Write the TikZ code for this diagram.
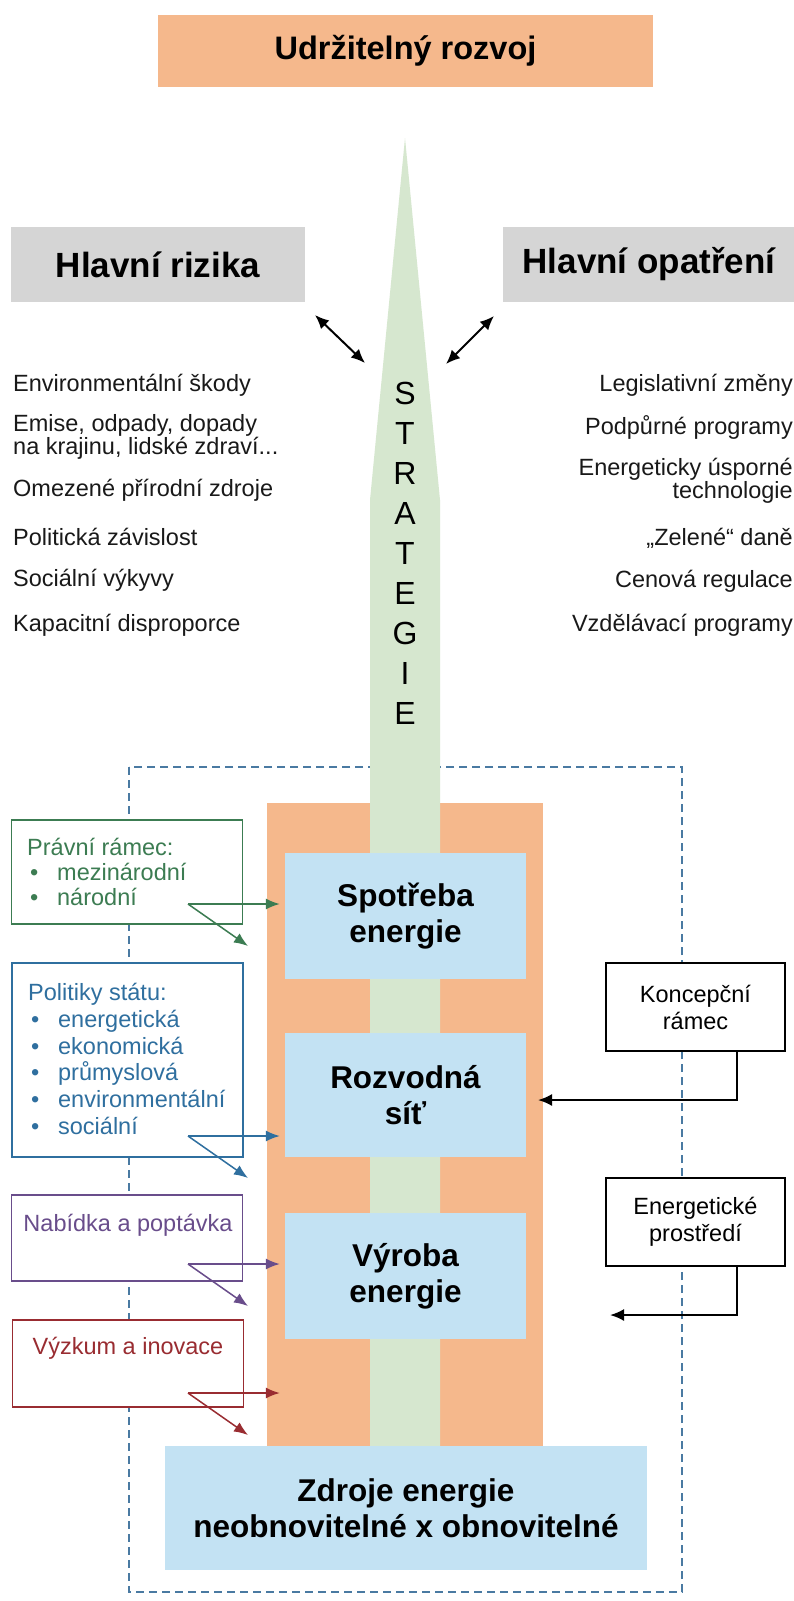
\documentclass[tikz,border=0pt]{standalone}
\usepackage{fontspec}
\setmainfont{Liberation Sans}
\usetikzlibrary{arrows.meta,positioning}

\definecolor{peach}{HTML}{F5B88C}
\definecolor{skyblue}{HTML}{C3E2F3}
\definecolor{sage}{HTML}{D6E7CF}
\definecolor{headgray}{HTML}{D5D5D5}
\definecolor{lawgreen}{HTML}{3C7C52}
\definecolor{policyblue}{HTML}{2F6F9F}
\definecolor{marketpurple}{HTML}{694D8B}
\definecolor{researchred}{HTML}{992C31}
\definecolor{dashblue}{HTML}{4A7AA2}

\newcommand{\listbullet}{\hspace*{3pt}\makebox[27pt][l]{\textbullet}}

\begin{document}
\begin{tikzpicture}[x=1pt,y=-1pt,
    listtext/.style={inner sep=0pt,text=black!90,font=\fontsize{23.5}{21}\selectfont},
    heading/.style={fill=headgray,minimum height=75pt,font=\bfseries\fontsize{35}{40}\selectfont},
    stage/.style={fill=skyblue,align=center,minimum width=241pt,font=\bfseries\fontsize{31.5}{36}\selectfont},
    sidebox/.style={draw,line width=1.5pt,fill=white,minimum width=231pt},
    envbox/.style={draw=black,line width=2pt,fill=white,minimum width=179pt,minimum height=88pt,align=center,font=\fontsize{23.5}{27}\selectfont},
    feed/.style={line width=1.5pt,-{Latex[length=14pt,width=11pt]}},
    backarrow/.style={line width=2pt,-{Latex[length=14pt,width=12pt]}},
    twoway/.style={line width=2pt,{Latex[length=14pt,width=12pt]}-{Latex[length=14pt,width=12pt]}}
  ]
        % page with the proportions of the reference
        \useasboundingbox (0,0) rectangle (794,1601);
        \fill[white] (0,0) rectangle (794,1601);

        % goal and the two headings
        \node[fill=peach,minimum width=495pt,minimum height=72pt,font=\bfseries\fontsize{32.5}{38}\selectfont] (goal) at (405.5,51) {Udržitelný rozvoj};
        \node[heading,minimum width=294pt] (risks) at (158,264.5) {Hlavní rizika};
        \node[heading,minimum width=292pt] (measures) at (649,264.5) {Hlavní opatření};

        % dashed frame of the energy system
        \draw[dashblue,line width=1.5pt,dash pattern=on 8pt off 5pt] (129,767) rectangle (682,1592);

        % orange column and the strategy spike
        \fill[peach] (267,803) rectangle (543,1446);
        \fill[sage] (405,138) -- (440,500) -- (440,1446) -- (370,1446) -- (370,500) -- cycle;

        \foreach \letter [count=\i] in {S,T,R,A,T,E,G,I,E}{
            \node[inner sep=0pt,font=\fontsize{32}{32}\selectfont] (strat\i) at (405,{353+40*\i}) {\letter};
        }

        % risks on the left, measures on the right
        \foreach \ypos/\txt [count=\i] in {385/{Environmentální škody}, 437/{Emise, odpady, dopady\\na krajinu, lidské zdraví...}, 490/{Omezené přírodní zdroje}, 537/{Politická závislost}, 580/{Sociální výkyvy}, 625/{Kapacitní disproporce}}{
            \node[listtext,anchor=west,align=left] (risk\i) at (13,\ypos) {\txt};
        }
        \foreach \ypos/\txt [count=\i] in {385/{Legislativní změny}, 427/{Podpůrné programy}, 481/{Energeticky úsporné\\technologie}, 538/{„Zelené“ daně}, 581/{Cenová regulace}, 625/{Vzdělávací programy}}{
            \node[listtext,anchor=east,align=right] (measure\i) at (793,\ypos) {\txt};
        }

        % arrows between the headings and the spike
        \coordinate (risks-a) at (315,315);
        \coordinate (risks-b) at (365,363);
        \coordinate (measures-a) at (494,316);
        \coordinate (measures-b) at (446,364);
        \draw[twoway] (risks-a) -- (risks-b);
        \draw[twoway] (measures-a) -- (measures-b);

        % stages of the energy chain
        \node[stage,minimum height=126pt] (use) at (405.5,916) {Spotřeba\\energie};
        \node[stage,minimum height=124pt] (grid) at (405.5,1095) {Rozvodná\\síť};
        \node[stage,minimum height=126pt] (production) at (405.5,1276) {Výroba\\energie};
        \node[stage,minimum width=482pt,minimum height=124pt] (sources) at (406,1508) {Zdroje energie\\neobnovitelné x obnovitelné};

        % boxes on the left
        \node[sidebox,draw=lawgreen,minimum height=104pt] (law) at (127,872) {};
        \node[listtext,text=lawgreen,anchor=west,align=left,font=\fontsize{23.5}{25}\selectfont] (lawtxt) at (27,872) {Právní rámec:\\\listbullet mezinárodní\\\listbullet národní};
        \node[sidebox,draw=policyblue,minimum height=194pt] (policy) at (127.5,1060) {};
        \node[listtext,text=policyblue,anchor=west,align=left,font=\fontsize{23.5}{26.8}\selectfont] (policytxt) at (28,1059) {Politiky státu:\\\listbullet energetická\\\listbullet ekonomická\\\listbullet průmyslová\\\listbullet environmentální\\\listbullet sociální};
        \node[sidebox,draw=marketpurple,minimum height=86pt] (market) at (127,1238) {};
        \node[listtext,text=marketpurple] (markettxt) at (128,1225) {Nabídka a poptávka};
        \node[sidebox,draw=researchred,minimum height=87pt] (research) at (128,1363.5) {};
        \node[listtext,text=researchred] (researchtxt) at (128,1348) {Výzkum a inovace};

        % boxes on the right
        \node[envbox] (concept) at (695.5,1007) {Koncepční\\rámec};
        \node[envbox] (environ) at (695.5,1222) {Energetické\\prostředí};

        % arrows from the left boxes
        \foreach \name/\target/\ya/\col in {law/use/904/lawgreen, policy/grid/1136/policyblue, market/production/1264/marketpurple, research/production/1393/researchred}{
            \coordinate (\name-from) at (188,\ya);
            \coordinate (\name-down) at (248,{\ya+42});
            \draw[feed,\col,shorten >=5pt] (\name-from) -- (\target.west |- \name-from);
            \draw[feed,\col] (\name-from) -- (\name-down);
        }

        % arrows from the right boxes
        \coordinate (concept-tip) at (538,1100);
        \coordinate (environ-tip) at (610,1315);
        \draw[backarrow] ([xshift=41.5pt]concept.south) |- (concept-tip);
        \draw[backarrow] ([xshift=41.5pt]environ.south) |- (environ-tip);

    \end{tikzpicture}
\end{document}
